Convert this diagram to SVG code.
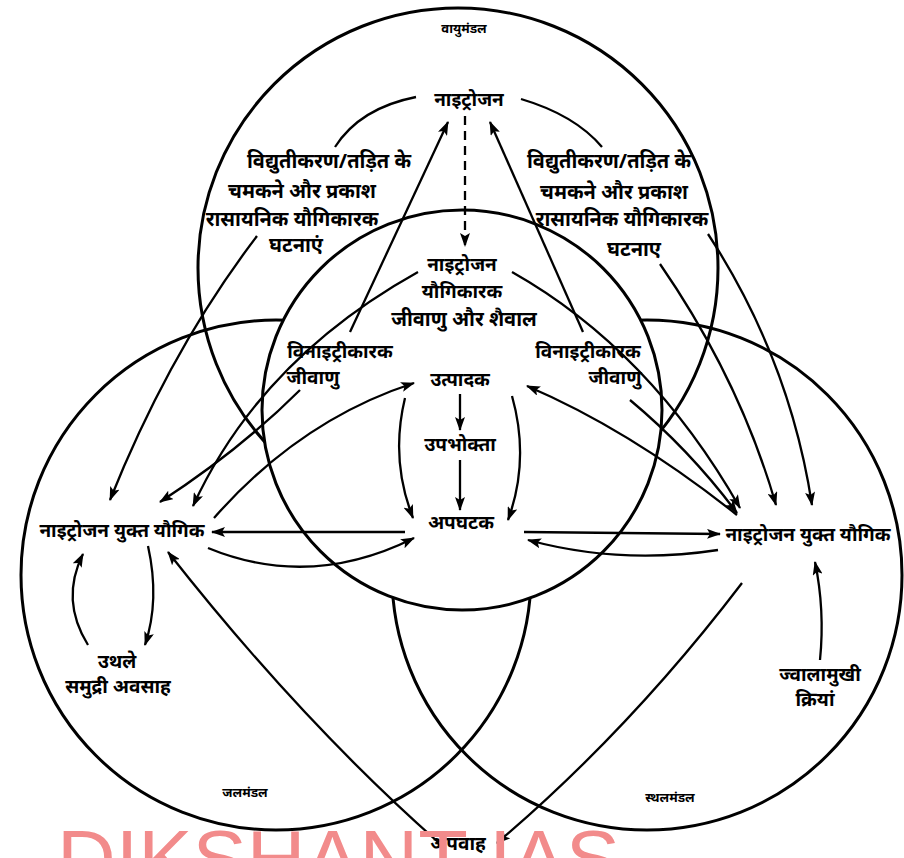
<svg xmlns="http://www.w3.org/2000/svg" width="904" height="858" viewBox="0 0 904 858">
<style>
.c{fill:none;stroke:#000;stroke-width:3}
.cf{fill:#fff;stroke:#000;stroke-width:3}
.a{fill:none;stroke:#000;stroke-width:2.3;marker-end:url(#ah)}
.l{fill:none;stroke:#000;stroke-width:2.3}
.t{font-family:"Noto Sans","Noto Sans Devanagari","Lohit Devanagari",sans-serif;font-size:19px;font-weight:bold;fill:#000;text-anchor:middle}
.b{font-size:20px}
.s{font-family:"Noto Sans","Noto Sans Devanagari",sans-serif;font-size:13px;font-weight:bold;font-style:italic;fill:#000;text-anchor:middle}
.w{font-family:"Liberation Sans",Arial,sans-serif;font-size:80px;fill:#f28b8b;text-anchor:start}
</style>
<defs>
<marker id="ah" viewBox="0 0 14 10" refX="13" refY="5" markerWidth="14" markerHeight="10" markerUnits="userSpaceOnUse" orient="auto"><path d="M0,0 L14,5 L0,10 L3,5 z" fill="#000"/></marker>
</defs>
<rect width="904" height="858" fill="#fff"/>
<g id="circles">
<circle id="atmosphere" class="c" cx="458" cy="268" r="260"/>
<circle id="hydrosphere" class="c" cx="276" cy="575" r="255"/>
<circle id="lithosphere" class="c" cx="647" cy="575" r="255"/>
<circle id="biosphere" class="cf" cx="462" cy="410" r="200"/>
</g>
<g id="connectors">
<path class="a" d="M465,116 L465,246" stroke-dasharray="9,6"/>
<path class="a" d="M350,332 L448,122"/>
<path class="a" d="M583,332 L490,122"/>
<path class="l" d="M416,97 Q360,108 335,147"/>
<path class="l" d="M521,99 Q575,115 602,147"/>
<path class="a" d="M257,236 Q170,350 110,500"/>
<path class="a" d="M660,264 Q740,380 776,505"/>
<path class="a" d="M708,234 Q790,360 812,505"/>
<path class="a" d="M300,390 Q240,450 160,502"/>
<path class="a" d="M418,272 Q260,360 193,506"/>
<path class="a" d="M630,400 Q690,450 737,513"/>
<path class="a" d="M512,272 Q650,350 740,508"/>
<path class="a" d="M214,518 Q300,420 414,383"/>
<path class="a" d="M405,398 Q390,460 413,518"/>
<path class="a" d="M737,515 Q630,430 527,386"/>
<path class="a" d="M512,396 Q530,460 508,520"/>
<path class="a" d="M460,394 L460,430"/>
<path class="a" d="M460,460 L460,510"/>
<path class="a" d="M405,532 L212,532"/>
<path class="a" d="M208,548 Q310,590 414,538"/>
<path class="a" d="M524,532 L720,534"/>
<path class="a" d="M718,550 Q620,565 528,540"/>
<path class="a" d="M148,546 Q160,600 145,645"/>
<path class="a" d="M88,645 Q60,600 83,554"/>
<path class="a" d="M820,660 Q825,610 815,562"/>
<path class="a" d="M742,583 Q630,730 497,843"/>
<path class="a" d="M438,842 Q300,720 168,552"/>
</g>
<g id="labels">
<text class="s" x="464" y="33">वायुमंडल</text>
<text class="s" x="245" y="797">जलमंडल</text>
<text class="s" x="670" y="802">स्थलमंडल</text>
</g>
<g id="n2"><text class="t" x="469" y="106">नाइट्रोजन</text></g>
<g id="lightning-left">
<text class="t b" x="329" y="168">विद्युतीकरण/तड़ित के</text>
<text class="t b" x="302" y="198">चमकने और प्रकाश</text>
<text class="t b" x="292" y="226">रासायनिक यौगिकारक</text>
<text class="t b" x="296" y="252">घटनाएं</text>
</g>
<g id="lightning-right">
<text class="t b" x="609" y="168">विद्युतीकरण/तड़ित के</text>
<text class="t b" x="614" y="199">चमकने और प्रकाश</text>
<text class="t b" x="622" y="226">रासायनिक यौगिकारक</text>
<text class="t b" x="634" y="256">घटनाए</text>
</g>
<g id="fixers">
<text class="t" x="462" y="271">नाइट्रोजन</text>
<text class="t" x="462" y="298">यौगिकारक</text>
<text class="t b" x="464" y="326">जीवाणु और शैवाल</text>
</g>
<g id="denit-left">
<text class="t" x="340" y="358">विनाइट्रीकारक</text>
<text class="t" x="313" y="384">जीवाणु</text>
</g>
<g id="denit-right">
<text class="t" x="588" y="358">विनाइट्रीकारक</text>
<text class="t" x="615" y="384">जीवाणु</text>
</g>
<g id="producers"><text class="t" x="460" y="386">उत्पादक</text></g>
<g id="consumers"><text class="t" x="460" y="451">उपभोक्ता</text></g>
<g id="decomposers"><text class="t" x="461" y="529">अपघटक</text></g>
<g id="ncomp-left"><text class="t" x="122" y="537">नाइट्रोजन युक्त यौगिक</text></g>
<g id="ncomp-right"><text class="t" x="808" y="541">नाइट्रोजन युक्त यौगिक</text></g>
<g id="sediments">
<text class="t" x="117" y="668">उथले</text>
<text class="t" x="118" y="693">समुद्री अवसाह</text>
</g>
<g id="volcanic">
<text class="t" x="820" y="681">ज्वालामुखी</text>
<text class="t" x="815" y="706">क्रियां</text>
</g>
<g id="runoff"><text class="t" x="458" y="850">अपवाह</text></g>
<text class="w" x="57" y="886" textLength="563" lengthAdjust="spacingAndGlyphs">DIKSHANT IAS</text>
</svg>
